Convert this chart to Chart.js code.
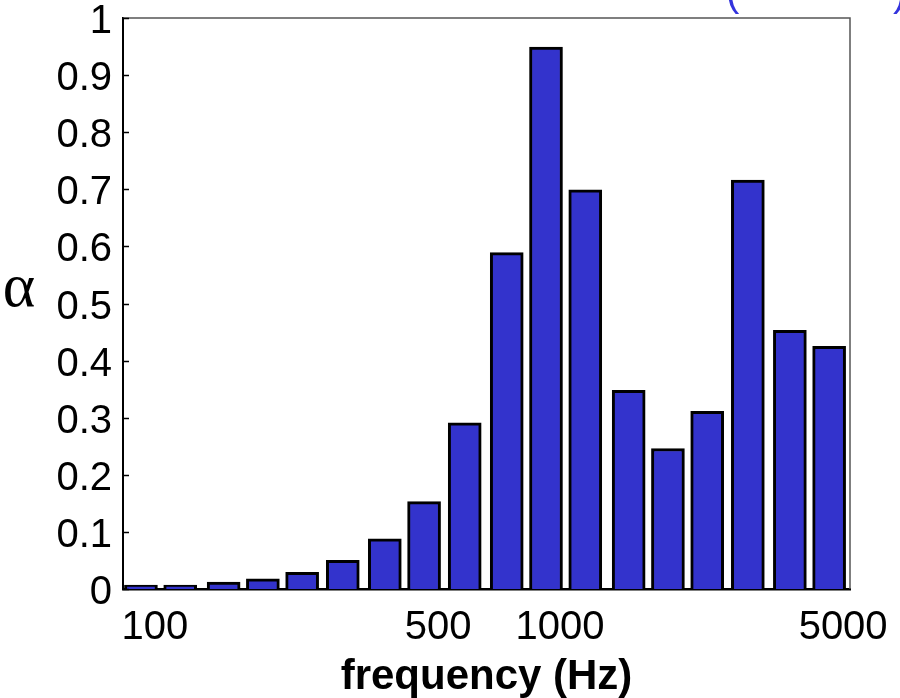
<!DOCTYPE html>
<html>
<head>
<meta charset="utf-8">
<script src="https://cdn.jsdelivr.net/npm/chart.js@4.4.1/dist/chart.umd.min.js"></script>
<style>
  html, body { margin: 0; padding: 0; background: #fff; }
  #wrap { width: 900px; height: 698px; }
</style>
</head>
<body>
<div id="wrap"><canvas id="absorption"></canvas></div>
<script>
// third-octave band centres (Hz) and absorption coefficient per band
const frequencies = [100, 125, 160, 200, 250, 315, 400, 500, 630, 800, 1000, 1250, 1600, 2000, 2500, 3150, 4000, 5000];
const alphaValues = [0.007, 0.007, 0.012, 0.018, 0.029, 0.05, 0.088, 0.153, 0.291, 0.589, 0.949, 0.699, 0.348, 0.246, 0.311, 0.716, 0.453, 0.425];
const xTicks = [100, 500, 1000, 5000];
const xRange = [90.3, 5630];

const FONT = "'Liberation Sans', Arial, sans-serif";
const BAR_BLUE = "rgb(51, 51, 204)";

// box edges, inward y ticks, the alpha label and the clipped caption
const framePlugin = {
    id: "frame",
    afterDatasetsDraw(chart) {
        const { ctx, chartArea: a, scales } = chart;
        ctx.save();
        ctx.strokeStyle = "#555";
        ctx.lineWidth = 1.5;
        ctx.beginPath();
        ctx.moveTo(a.left, a.top);
        ctx.lineTo(a.right, a.top);
        ctx.lineTo(a.right, a.bottom);
        ctx.stroke();

        ctx.strokeStyle = "#000";
        ctx.lineWidth = 1.5;
        scales.y.ticks.forEach((t) => {
            const y = Math.round(scales.y.getPixelForValue(t.value)) + 0.5;
            ctx.beginPath();
            ctx.moveTo(a.left, y);
            ctx.lineTo(a.left + 6, y);
            ctx.stroke();
        });

        ctx.fillStyle = "#000";
        ctx.font = "62px 'Liberation Serif', 'Times New Roman', serif";
        ctx.textAlign = "center";
        ctx.textBaseline = "middle";
        ctx.fillText("\u03b1", 19, 290);

        ctx.fillStyle = "#3333dd";
        ctx.font = "40px " + FONT;
        ctx.textAlign = "left";
        ctx.textBaseline = "alphabetic";
        ctx.fillText("(", 726, 6);
        ctx.fillText(")", 893, 6);
        ctx.restore();
    },
};

new Chart(document.getElementById("absorption"), {
    type: "bar",
    data: {
        datasets: [
            {
                data: frequencies.map((f, i) => ({ x: f, y: alphaValues[i] })),
                backgroundColor: BAR_BLUE,
                borderColor: "#000",
                borderWidth: 3,
                borderSkipped: "start",
                barThickness: 33,
            },
        ],
    },
    options: {
        responsive: true,
        maintainAspectRatio: false,
        animation: false,
        layout: {
            padding: { top: 18, right: 50, left: 0, bottom: 0 },
        },
        scales: {
            x: {
                type: "logarithmic",
                min: xRange[0],
                max: xRange[1],
                bounds: "data",
                offset: false,
                afterBuildTicks: (scale) => {
                    scale.ticks = xTicks.map((v) => ({ value: v }));
                },
                afterFit: (scale) => {
                    scale.height = 109;
                    scale.paddingLeft = 0;
                    scale.paddingRight = 0;
                },
                grid: { display: false, drawTicks: false },
                border: { display: true, color: "#000", width: 2.5 },
                ticks: {
                    color: "#000",
                    font: { family: FONT, size: 40 },
                    padding: 15,
                    labelOffset: 14,
                    maxRotation: 0,
                    autoSkip: false,
                    callback: (v) => String(v),
                },
                title: {
                    display: true,
                    text: "frequency (Hz)",
                    color: "#000",
                    font: { family: FONT, size: 42, weight: "bold" },
                    padding: { top: 0, bottom: -5 },
                },
            },
            y: {
                min: 0,
                max: 1,
                afterFit: (scale) => {
                    scale.width = 123;
                    scale.paddingTop = 0;
                    scale.paddingBottom = 0;
                },
                grid: { display: false, drawTicks: false },
                border: { display: true, color: "#000", width: 2 },
                ticks: {
                    stepSize: 0.1,
                    color: "#000",
                    font: { family: FONT, size: 40 },
                    padding: 11,
                    labelOffset: 4,
                    callback: (v) => String(Number(v.toFixed(1))),
                },
            },
        },
        plugins: {
            legend: { display: false },
            tooltip: { enabled: false },
        },
    },
    plugins: [framePlugin],
});
</script>
</body>
</html>
